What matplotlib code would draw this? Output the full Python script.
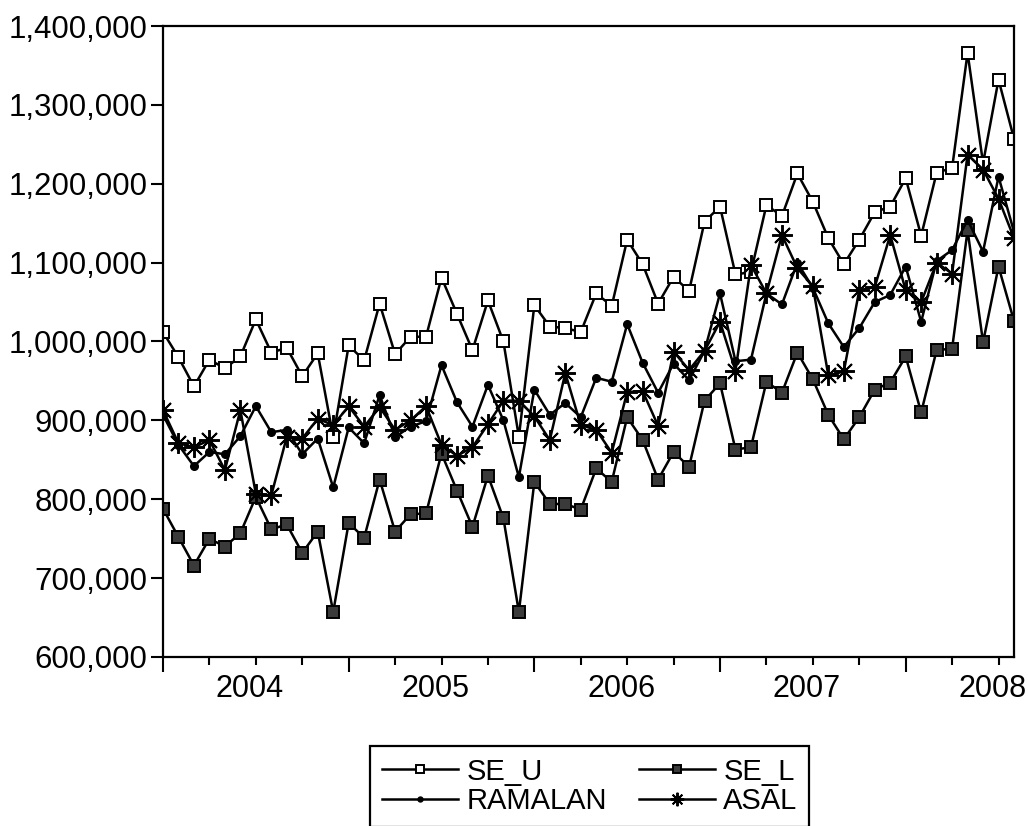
import numpy as np
import pandas as pd
import matplotlib
matplotlib.use("Agg")
import matplotlib.pyplot as plt
import matplotlib.transforms as mtransforms
from matplotlib.ticker import FuncFormatter

plt.rcParams['font.family'] = ['Liberation Sans', 'DejaVu Sans']

# monthly sample 2003M07 - 2008M02
months = pd.period_range("2003-07", "2008-02", freq="M")

se_u = [1012000, 980000, 943000, 977000, 966000, 981000, 1028000, 986000,
        992000, 956000, 985000, 879000, 995000, 976000, 1048000, 984000,
        1006000, 1006000, 1081000, 1035000, 989000, 1052000, 1000000, 879000,
        1046000, 1019000, 1017000, 1012000, 1061000, 1045000, 1129000, 1098000,
        1048000, 1082000, 1064000, 1152000, 1171000, 1085000, 1088000, 1173000,
        1159000, 1213000, 1177000, 1131000, 1098000, 1129000, 1164000, 1171000,
        1207000, 1134000, 1214000, 1220000, 1366000, 1226000, 1332000, 1257000]

se_l = [788000, 752000, 716000, 750000, 740000, 757000, 803000, 762000,
        768000, 732000, 759000, 657000, 770000, 751000, 825000, 759000,
        781000, 782000, 858000, 811000, 765000, 830000, 776000, 657000,
        822000, 794000, 794000, 787000, 839000, 822000, 904000, 875000,
        825000, 860000, 841000, 925000, 947000, 863000, 866000, 949000,
        935000, 986000, 952000, 907000, 876000, 904000, 939000, 948000,
        981000, 910000, 989000, 991000, 1141000, 999000, 1095000, 1026000]

ramalan = [907000, 869000, 842000, 860000, 857000, 880000, 918000, 885000,
           888000, 857000, 877000, 815000, 891000, 871000, 932000, 879000,
           892000, 899000, 970000, 923000, 892000, 945000, 900000, 828000,
           939000, 907000, 922000, 904000, 954000, 949000, 1022000, 973000,
           935000, 972000, 951000, 988000, 1061000, 975000, 977000, 1061000,
           1047000, 1100000, 1068000, 1023000, 993000, 1017000, 1050000, 1059000,
           1095000, 1025000, 1102000, 1116000, 1154000, 1114000, 1209000, 1139000]

asal = [913000, 871000, 866000, 875000, 837000, 913000, 807000, 805000,
        879000, 877000, 902000, 894000, 918000, 892000, 917000, 888000,
        900000, 918000, 869000, 855000, 866000, 895000, 925000, 925000,
        905000, 875000, 960000, 894000, 888000, 859000, 936000, 937000,
        893000, 987000, 964000, 988000, 1025000, 963000, 1097000, 1061000,
        1135000, 1093000, 1070000, 957000, 962000, 1065000, 1069000, 1135000,
        1065000, 1050000, 1100000, 1086000, 1237000, 1218000, 1181000, 1131000]

x = np.arange(len(months))

fig = plt.figure(figsize=(10.28, 8.26), dpi=100)
ax = fig.add_axes([163 / 1028, 169 / 826, 851 / 1028, 631 / 826])

lw = 1.8
h_u, = ax.plot(x, se_u, color='black', lw=lw, marker='s', ms=8,
               mfc='white', mec='black', mew=1.4, label='SE_U')
h_l, = ax.plot(x, se_l, color='black', lw=lw, marker='s', ms=8,
               mfc='#3a3a3a', mec='black', mew=1.4, label='SE_L')
h_r, = ax.plot(x, ramalan, color='black', lw=lw, marker='o', ms=5.5,
               mfc='black', mec='black', label='RAMALAN')
h_a, = ax.plot(x, asal, color='black', lw=lw, marker=(8, 2, 0), ms=15,
               mec='black', mew=1.4, label='ASAL')

ax.set_xlim(0, len(x) - 1)
ax.set_ylim(600000, 1400000)
ax.set_yticks(np.arange(600000, 1400001, 100000))
ax.yaxis.set_major_formatter(FuncFormatter(lambda v, p: f"{v:,.0f}"))
ax.tick_params(axis='y', direction='out', length=9, width=1.5, pad=2,
               labelsize=22.5, colors='black')

# quarterly ticks, longer ones every 12 obs, year labels at january
jul = [i for i, m in enumerate(months) if m.month == 7]
qtr = [i for i, m in enumerate(months) if m.month in (1, 4, 10)]
jan = [i for i, m in enumerate(months) if m.month == 1]
ax.set_xticks(jul)
ax.set_xticks(qtr, minor=True)
ax.set_xticklabels([])
ax.tick_params(axis='x', which='major', direction='out', length=11, width=1.5)
ax.tick_params(axis='x', which='minor', direction='out', length=6, width=1.5)

lab_tr = ax.get_xaxis_transform() + mtransforms.ScaledTranslation(
    -0.06, -0.40, fig.dpi_scale_trans)
for i in jan:
    ax.text(i, 0, str(months[i].year), transform=lab_tr, ha='center',
            va='baseline', fontsize=22)

for sp in ax.spines.values():
    sp.set_linewidth(1.6)
    sp.set_color('black')

leg = fig.legend(handles=[h_u, h_r, h_l, h_a], loc='upper left',
                 bbox_to_anchor=(370 / 1028, 1 - 746 / 826), ncol=2,
                 fontsize=21, handlelength=2.6, handletextpad=0.3,
                 columnspacing=1.1, borderpad=0.4, borderaxespad=0,
                 labelspacing=0.05, markerscale=0.65, fancybox=False,
                 edgecolor='black', framealpha=1)
leg.get_frame().set_linewidth(1.6)

fig.savefig("out.png", dpi=100, facecolor='white')
